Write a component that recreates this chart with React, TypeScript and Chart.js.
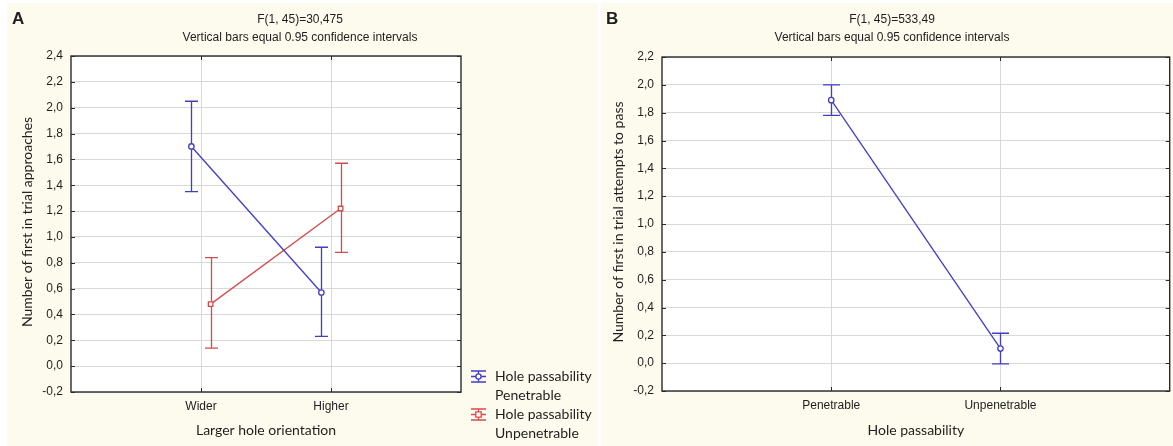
import React, { useEffect, useRef } from "react";
import { Chart, registerables } from "chart.js";

Chart.register(...registerables);

// ---------- Panel A data ----------
const categoriesA = ["Wider", "Higher"];
const penetrableMeanA = [1.7, 0.57];
const penetrableLowA = [1.35, 0.23];
const penetrableHighA = [2.05, 0.92];
const unpenetrableMeanA = [0.48, 1.22];
const unpenetrableLowA = [0.14, 0.88];
const unpenetrableHighA = [0.84, 1.57];
const yTickValuesA = [-0.2, 0, 0.2, 0.4, 0.6, 0.8, 1.0, 1.2, 1.4, 1.6, 1.8, 2.0, 2.2, 2.4];
const yTickLabelsA = ["-0,2", "0,0", "0,2", "0,4", "0,6", "0,8", "1,0", "1,2", "1,4", "1,6", "1,8", "2,0", "2,2", "2,4"];

// ---------- Panel B data ----------
const categoriesB = ["Penetrable", "Unpenetrable"];
const meanB = [1.89, 0.105];
const lowB = [1.78, -0.005];
const highB = [2.0, 0.215];
const yTickValuesB = [-0.2, 0, 0.2, 0.4, 0.6, 0.8, 1.0, 1.2, 1.4, 1.6, 1.8, 2.0, 2.2];
const yTickLabelsB = ["-0,2", "0,0", "0,2", "0,4", "0,6", "0,8", "1,0", "1,2", "1,4", "1,6", "1,8", "2,0", "2,2"];

const BLUE = "#3f3fc2";
const RED = "#d24c4c";
const CREAM = "#fdfaee";
const GRID = "#d9d9d9";
const FRAME = "#2a2a2a";
const TEXT = "#1e1e1e";
const SANS = "'Liberation Sans', Arial, sans-serif";
const HUMAN = "Lato, 'Open Sans', sans-serif";

type Series = {
  mean: number[];
  low: number[];
  high: number[];
  color: string;
  style: "circle" | "rect";
  offset: number;
};

type Panel = {
  letter: string;
  title1: string;
  title2: string;
  titleX: number;
  categories: string[];
  yTicks: number[];
  yLabels: string[];
  series: Series[];
  capHalf: number;
  yWidth: number;
  xHeight: number;
  padTop: number;
  padRight: number;
  yTitle: string;
  yTitleX: number;
  xTitle: string;
  legend: { label1: string; label2: string; color: string; style: "circle" | "rect" }[] | null;
};

function buildConfig(p: Panel): any {
  const decor = {
    id: "decor",
    beforeDraw(chart: any) {
      const { ctx, chartArea: a, width, height } = chart;
      ctx.save();
      ctx.fillStyle = CREAM;
      ctx.fillRect(0, 0, width, height);
      ctx.fillStyle = "#ffffff";
      ctx.fillRect(a.left, a.top, a.right - a.left, a.bottom - a.top);
      ctx.restore();
    },
    beforeDatasetsDraw(chart: any) {
      const { ctx } = chart;
      const xs = chart.scales.x;
      const ys = chart.scales.y;
      ctx.save();
      ctx.lineWidth = 1.3;
      p.series.forEach((s) => {
        ctx.strokeStyle = s.color;
        s.mean.forEach((_, i) => {
          const x = Math.round(xs.getPixelForValue(i + 1 + s.offset)) + 0.5;
          const yl = ys.getPixelForValue(s.low[i]);
          const yh = ys.getPixelForValue(s.high[i]);
          ctx.beginPath();
          ctx.moveTo(x, yl);
          ctx.lineTo(x, yh);
          ctx.moveTo(x - p.capHalf, yl);
          ctx.lineTo(x + p.capHalf, yl);
          ctx.moveTo(x - p.capHalf, yh);
          ctx.lineTo(x + p.capHalf, yh);
          ctx.stroke();
        });
      });
      ctx.restore();
    },
    afterDraw(chart: any) {
      const { ctx, chartArea: a } = chart;
      const xs = chart.scales.x;
      const ys = chart.scales.y;
      ctx.save();
      // frame
      ctx.strokeStyle = FRAME;
      ctx.lineWidth = 1.4;
      ctx.strokeRect(a.left, a.top, a.right - a.left, a.bottom - a.top);
      // inner ticks
      ctx.lineWidth = 1;
      ctx.beginPath();
      p.yTicks.forEach((v) => {
        const y = Math.round(ys.getPixelForValue(v)) + 0.5;
        ctx.moveTo(a.left, y);
        ctx.lineTo(a.left + 4, y);
        ctx.moveTo(a.right, y);
        ctx.lineTo(a.right - 4, y);
      });
      p.categories.forEach((_, i) => {
        const x = Math.round(xs.getPixelForValue(i + 1)) + 0.5;
        ctx.moveTo(x, a.top);
        ctx.lineTo(x, a.top + 4);
        ctx.moveTo(x, a.bottom);
        ctx.lineTo(x, a.bottom - 4);
      });
      ctx.stroke();

      // titles
      ctx.fillStyle = TEXT;
      ctx.textAlign = "center";
      ctx.textBaseline = "middle";
      ctx.font = `12px ${SANS}`;
      ctx.fillText(p.title1, p.titleX, 17);
      ctx.fillText(p.title2, p.titleX, 35);

      // panel letter
      ctx.textAlign = "left";
      ctx.textBaseline = "alphabetic";
      ctx.font = `bold 17px ${SANS}`;
      ctx.fillText(p.letter, 5, 20.5);

      // axis titles
      ctx.font = `14px ${HUMAN}`;
      ctx.textAlign = "center";
      ctx.textBaseline = "middle";
      ctx.fillText(p.xTitle, (a.left + a.right) / 2, 427);
      ctx.save();
      ctx.translate(p.yTitleX, (a.top + a.bottom) / 2 - 2);
      ctx.rotate(-Math.PI / 2);
      ctx.fillText(p.yTitle, 0, 0);
      ctx.restore();

      // legend
      if (p.legend) {
        const cx = 471.5;
        let row = 373.5;
        p.legend.forEach((l) => {
          ctx.strokeStyle = l.color;
          ctx.lineWidth = 1.3;
          ctx.beginPath();
          ctx.moveTo(464, row - 5.5);
          ctx.lineTo(479, row - 5.5);
          ctx.moveTo(464, row + 5.5);
          ctx.lineTo(479, row + 5.5);
          ctx.moveTo(464, row);
          ctx.lineTo(479, row);
          ctx.moveTo(cx, row - 5.5);
          ctx.lineTo(cx, row + 5.5);
          ctx.stroke();
          ctx.fillStyle = "#ffffff";
          ctx.beginPath();
          if (l.style === "circle") {
            ctx.arc(cx, row, 2.6, 0, Math.PI * 2);
          } else {
            ctx.rect(cx - 2.7, row - 2.7, 5.4, 5.4);
          }
          ctx.fill();
          ctx.stroke();
          ctx.fillStyle = TEXT;
          ctx.textAlign = "left";
          ctx.font = `14px ${HUMAN}`;
          ctx.fillText(l.label1, 488, row);
          ctx.fillText(l.label2, 488, row + 19);
          row += 38;
        });
      }
      ctx.restore();
    },
  };

  return {
    type: "line",
    data: {
      datasets: p.series.map((s) => ({
        data: s.mean.map((m, i) => ({ x: i + 1 + s.offset, y: m })),
        borderColor: s.color,
        borderWidth: 1.3,
        pointStyle: s.style,
        pointRadius: s.style === "circle" ? 2.7 : 3.2,
        pointBorderWidth: 1.3,
        pointBorderColor: s.color,
        pointBackgroundColor: "#ffffff",
        fill: false,
        tension: 0,
        clip: false,
      })),
    },
    options: {
      responsive: false,
      animation: false,
      devicePixelRatio: 1,
      layout: { padding: { top: p.padTop, right: p.padRight, left: 0, bottom: 0 } },
      plugins: { legend: { display: false }, tooltip: { enabled: false }, title: { display: false } },
      scales: {
        x: {
          type: "linear",
          min: 0,
          max: 3,
          afterBuildTicks: (s: any) => {
            s.ticks = p.categories.map((_, i) => ({ value: i + 1 }));
          },
          afterFit: (s: any) => {
            s.height = p.xHeight;
          },
          ticks: {
            callback: (_v: any, i: number) => p.categories[i],
            font: { family: SANS, size: 12 },
            color: TEXT,
            padding: 7,
            autoSkip: false,
            maxRotation: 0,
          },
          grid: { color: GRID, lineWidth: 1, drawTicks: false },
          border: { display: false },
        },
        y: {
          type: "linear",
          min: p.yTicks[0],
          max: p.yTicks[p.yTicks.length - 1],
          afterBuildTicks: (s: any) => {
            s.ticks = p.yTicks.map((v) => ({ value: v }));
          },
          afterFit: (s: any) => {
            s.width = p.yWidth;
          },
          ticks: {
            callback: (_v: any, i: number) => p.yLabels[i],
            font: { family: SANS, size: 12 },
            color: TEXT,
            padding: 8,
            autoSkip: false,
          },
          grid: { color: GRID, lineWidth: 1, drawTicks: false },
          border: { display: false },
        },
      },
    },
    plugins: [decor],
  };
}

const panelA: Panel = {
  letter: "A",
  title1: "F(1, 45)=30,475",
  title2: "Vertical bars equal 0.95 confidence intervals",
  titleX: 293,
  categories: categoriesA,
  yTicks: yTickValuesA,
  yLabels: yTickLabelsA,
  series: [
    { mean: penetrableMeanA, low: penetrableLowA, high: penetrableHighA, color: BLUE, style: "circle", offset: -0.074 },
    { mean: unpenetrableMeanA, low: unpenetrableLowA, high: unpenetrableHighA, color: RED, style: "rect", offset: 0.074 },
  ],
  capHalf: 6.5,
  yWidth: 64,
  xHeight: 54,
  padTop: 53,
  padRight: 137,
  yTitle: "Number of first in trial approaches",
  yTitleX: 20,
  xTitle: "Larger hole orientation",
  legend: [
    { label1: "Hole passability", label2: "Penetrable", color: BLUE, style: "circle" },
    { label1: "Hole passability", label2: "Unpenetrable", color: RED, style: "rect" },
  ],
};

const panelB: Panel = {
  letter: "B",
  title1: "F(1, 45)=533,49",
  title2: "Vertical bars equal 0.95 confidence intervals",
  titleX: 291,
  categories: categoriesB,
  yTicks: yTickValuesB,
  yLabels: yTickLabelsB,
  series: [{ mean: meanB, low: lowB, high: highB, color: BLUE, style: "circle", offset: 0 }],
  capHalf: 8.5,
  yWidth: 61,
  xHeight: 55,
  padTop: 54,
  padRight: 1,
  yTitle: "Number of first in trial attempts to pass",
  yTitleX: 17,
  xTitle: "Hole passability",
  legend: null,
};

export default function App() {
  const refA = useRef<HTMLCanvasElement>(null);
  const refB = useRef<HTMLCanvasElement>(null);
  useEffect(() => {
    const a = new Chart(refA.current as HTMLCanvasElement, buildConfig(panelA));
    const b = new Chart(refB.current as HTMLCanvasElement, buildConfig(panelB));
    return () => {
      a.destroy();
      b.destroy();
    };
  }, []);
  return (
    <div
      style={{
        position: "fixed",
        left: 0,
        top: 0,
        width: 1173,
        height: 446,
        overflow: "hidden",
        background: "#ffffff",
      }}
    >
      <canvas ref={refA} width={591} height={443} style={{ position: "absolute", left: 7, top: 3, width: 591, height: 443 }} />
      <canvas ref={refB} width={574} height={443} style={{ position: "absolute", left: 601, top: 3, width: 574, height: 443 }} />
    </div>
  );
}
